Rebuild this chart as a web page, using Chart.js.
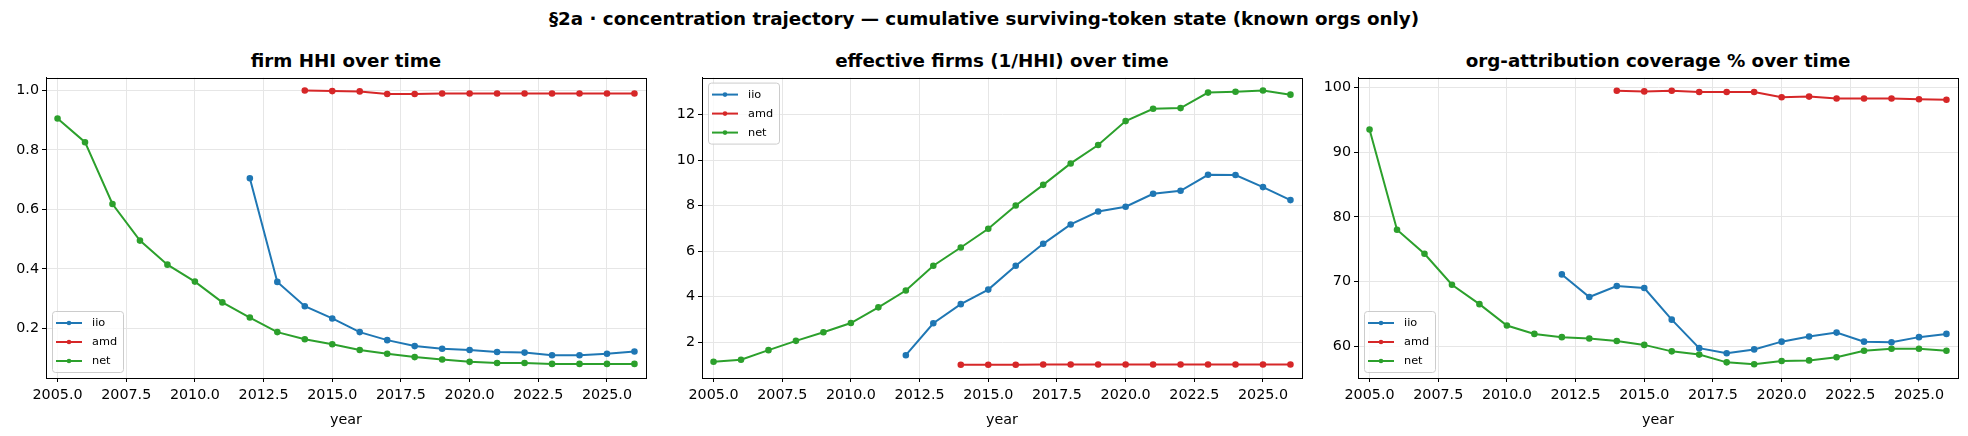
<!DOCTYPE html>
<html>
<head>
<meta charset="utf-8">
<script src="https://cdn.jsdelivr.net/npm/chart.js@4.4.1/dist/chart.umd.min.js"></script>
<style>
  html, body { margin:0; padding:0; background:#fff; }
  #wrap { position:relative; width:1968px; height:436px; overflow:hidden; font-family:"DejaVu Sans", sans-serif; }
  .sup { position:absolute; left:0; width:1968px; top:9.5px; line-height:18.3px; text-align:center; font-weight:bold; font-size:18.3px; color:#000; white-space:nowrap; }
  .ttl { position:absolute; top:52px; width:600px; line-height:18.3px; text-align:center; font-weight:bold; font-size:18.3px; color:#000; white-space:nowrap; }
  canvas { position:absolute; top:66px; }
</style>
</head>
<body>
<div id="wrap">
  <div class="sup">§2a · concentration trajectory — cumulative surviving-token state (known orgs only)</div>
  <div class="ttl" style="left:46px">firm HHI over time</div>
  <div class="ttl" style="left:702px">effective firms (1/HHI) over time</div>
  <div class="ttl" style="left:1358px">org-attribution coverage % over time</div>
  <canvas id="c1" width="654" height="370" style="left:0px"></canvas>
  <canvas id="c2" width="654" height="370" style="left:656px"></canvas>
  <canvas id="c3" width="654" height="370" style="left:1312px"></canvas>
</div>
<script>
// ---------- DATA ----------
const YEARS = [2005,2006,2007,2008,2009,2010,2011,2012,2013,2014,2015,2016,2017,2018,2019,2020,2021,2022,2023,2024,2025,2026];
const X_TICKS = [2005,2007.5,2010,2012.5,2015,2017.5,2020,2022.5,2025];
const SERIES = ["iio","amd","net"];
const COLORS = ["#1f77b4","#d62728","#2ca02c"];

// firm HHI
const HHI_IIO = [null,null,null,null,null,null,null,0.705,0.356,0.274,0.233,0.187,0.160,0.140,0.131,0.127,0.120,0.118,0.109,0.109,0.114,0.122];
const HHI_AMD = [null,null,null,null,null,null,null,null,null,1.000,0.998,0.997,0.988,0.988,0.990,0.990,0.990,0.990,0.990,0.990,0.990,0.990];
const HHI_NET = [0.906,0.826,0.618,0.495,0.414,0.357,0.287,0.236,0.187,0.163,0.146,0.127,0.114,0.103,0.095,0.087,0.083,0.083,0.080,0.080,0.080,0.080];
const HHI_TICKS = [0.2,0.4,0.6,0.8,1.0];

// effective firms
const EFF_IIO = [null,null,null,null,null,null,null,1.43,2.83,3.67,4.31,5.36,6.32,7.17,7.74,7.95,8.52,8.65,9.35,9.34,8.81,8.24];
const EFF_AMD = [null,null,null,null,null,null,null,null,null,1.01,1.01,1.01,1.02,1.02,1.02,1.02,1.02,1.02,1.02,1.02,1.02,1.02];
const EFF_NET = [1.14,1.23,1.65,2.06,2.44,2.84,3.53,4.27,5.36,6.16,6.98,8.00,8.91,9.85,10.66,11.71,12.25,12.28,12.96,13.00,13.05,12.87];
const EFF_TICKS = [2,4,6,8,10,12];

// coverage %
const COV_IIO = [null,null,null,null,null,null,null,71.1,67.6,69.3,69.0,64.1,59.7,58.9,59.5,60.7,61.5,62.1,60.7,60.6,61.4,61.9];
const COV_AMD = [null,null,null,null,null,null,null,null,null,99.5,99.4,99.5,99.3,99.3,99.3,98.5,98.6,98.3,98.3,98.3,98.2,98.1];
const COV_NET = [93.5,78.0,74.3,69.5,66.5,63.2,61.9,61.4,61.2,60.8,60.2,59.2,58.7,57.5,57.2,57.7,57.8,58.3,59.3,59.6,59.6,59.3];
const COV_TICKS = [60,70,80,90,100];

// ---------- SETUP ----------
Chart.defaults.font.family = "'DejaVu Sans', sans-serif";
Chart.defaults.font.size = 14.3;
Chart.defaults.color = "#000";

function pts(vals){
  return YEARS.map((y,i)=>({x:y, y:vals[i]})).filter(p=>p.y!=null);
}

// box around axes like matplotlib spines
const frame = {
  id:"frame",
  afterDraw(chart){
    const a = chart.chartArea, ctx = chart.ctx;
    ctx.save();
    ctx.strokeStyle = "#000"; ctx.lineWidth = 1;
    ctx.strokeRect(Math.round(a.left)+0.5, Math.round(a.top)+0.5, Math.round(a.right-a.left), Math.round(a.bottom-a.top));
    ctx.restore();
  }
};

// matplotlib-style legend inside plot
const mplLegend = {
  id:"mplLegend",
  afterDraw(chart, args, opts){
    const a = chart.chartArea, ctx = chart.ctx;
    const w = 71, h = 61;
    const x = a.left + 6;
    const y = opts.where === "upper" ? a.top + 5 : a.bottom - 6 - h;
    ctx.save();
    ctx.fillStyle = "rgba(255,255,255,0.8)";
    ctx.strokeStyle = "#cccccc"; ctx.lineWidth = 1;
    ctx.beginPath();
    ctx.roundRect(x+0.5, y+0.5, w, h, 3);
    ctx.fill(); ctx.stroke();
    ctx.font = "11.3px 'DejaVu Sans'";
    ctx.textBaseline = "middle";
    chart.data.datasets.forEach((ds,i)=>{
      const ry = y + 12 + i*19;
      ctx.strokeStyle = ds.borderColor; ctx.lineWidth = 2;
      ctx.beginPath(); ctx.moveTo(x+4, ry); ctx.lineTo(x+30, ry); ctx.stroke();
      ctx.fillStyle = ds.borderColor;
      ctx.beginPath(); ctx.arc(x+17, ry, 2.3, 0, Math.PI*2); ctx.fill();
      ctx.fillStyle = "#000";
      ctx.fillText(ds.label, x+40, ry);
    });
    ctx.restore();
  }
};

function makeChart(id, data, yMin, yMax, yTicks, yFmt, where){
  return new Chart(document.getElementById(id), {
    type:"line",
    data:{ datasets: data.map((vals,i)=>({
      label:SERIES[i], data:pts(vals), borderColor:COLORS[i], backgroundColor:COLORS[i],
      borderWidth:2, pointRadius:2.3, pointHoverRadius:2.3, tension:0, fill:false
    })) },
    options:{
      responsive:false, animation:false,
      layout:{ padding:{ top:10, right:8, left:0, bottom:0 } },
      plugins:{ legend:{ display:false }, tooltip:{ enabled:false }, mplLegend:{ where } },
      scales:{
        x:{
          type:"linear", min:2004.58, max:2026.42,
          afterBuildTicks: ax => { ax.ticks = X_TICKS.map(v=>({value:v})); },
          afterFit: ax => { ax.height = 58; },
          ticks:{ callback: v => v.toFixed(1), padding:5, maxRotation:0, autoSkip:false },
          grid:{ color:"#e6e6e6", lineWidth:1, tickColor:"#000", tickLength:4, tickWidth:1 },
          border:{ color:"#000", width:1 },
          title:{ display:true, text:"year", padding:{ top:0, bottom:7 } }
        },
        y:{
          type:"linear", min:yMin, max:yMax,
          afterBuildTicks: ax => { ax.ticks = yTicks.map(v=>({value:v})); },
          afterFit: ax => { ax.width = 46; },
          ticks:{ callback: yFmt, padding:3 },
          grid:{ color:"#e6e6e6", lineWidth:1, tickColor:"#000", tickLength:4, tickWidth:1 },
          border:{ color:"#000", width:1 }
        }
      }
    },
    plugins:[frame, mplLegend]
  });
}

makeChart("c1", [HHI_IIO,HHI_AMD,HHI_NET], 0.0326, 1.0435, HHI_TICKS, v=>v.toFixed(1), "lower");
makeChart("c2", [EFF_IIO,EFF_AMD,EFF_NET], 0.428, 13.62, EFF_TICKS, v=>String(v), "upper");
makeChart("c3", [COV_IIO,COV_AMD,COV_NET], 55.08, 101.54, COV_TICKS, v=>String(v), "lower");
</script>
</body>
</html>
